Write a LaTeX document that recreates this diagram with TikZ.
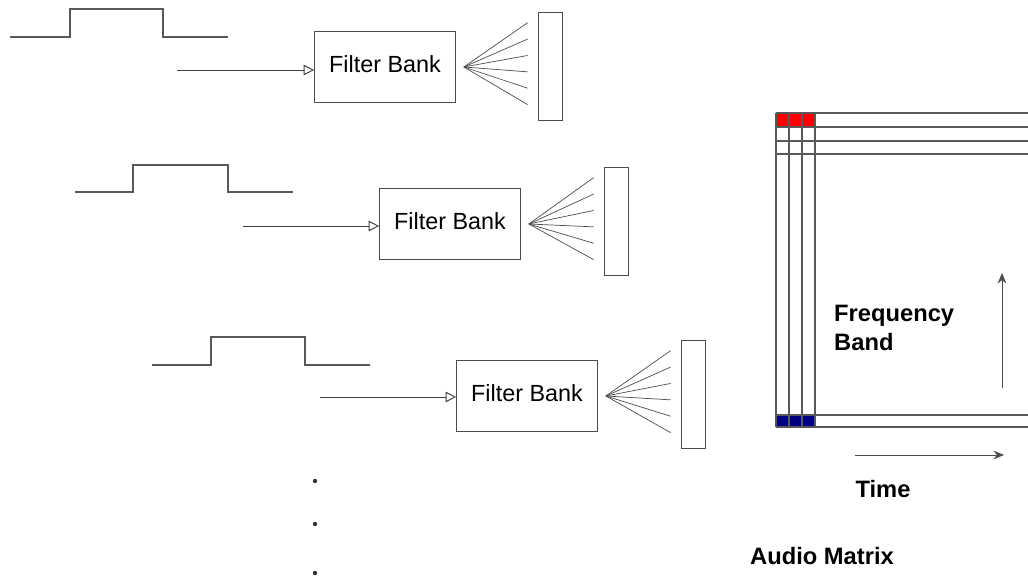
\documentclass[tikz,border=0pt]{standalone}
\usepackage{fontspec}
\setsansfont{Liberation Sans}
\usetikzlibrary{positioning, arrows.meta, calc}

\begin{document}
\begin{tikzpicture}[
  x=0.02cm, y=-0.02cm,
  font=\sffamily,
  fbank/.style={draw=black!70, minimum width=2.82cm, minimum height=1.42cm, inner sep=0pt,
    font=\sffamily\fontsize{13.3}{15}\selectfont},
  outbar/.style={draw=black!70, minimum width=0.48cm, minimum height=2.16cm, inner sep=0pt},
  pulse/.style={draw=black!65, line width=0.9pt},
  feed/.style={-{Triangle[open, length=6pt, width=6pt]}, draw=black!75, line width=0.55pt},
  fan/.style={draw=black!70, line width=0.4pt},
  gridline/.style={draw=black!65, line width=0.6pt},
  axis/.style={-{Stealth[length=6pt, width=5pt]}, draw=black!70, line width=0.55pt},
  lbl/.style={font=\sffamily\bfseries\fontsize{13.5}{17}\selectfont, align=left}
]
\useasboundingbox (0,0) rectangle (1028,580);

% first stage
\draw[pulse] (10,37) -- (70,37) -- (70,9) -- (163,9) -- (163,37) -- (228,37);
\coordinate (in1) at (177,70);
\node[fbank] (fb1) at (385,67) {\raisebox{3pt}{Filter Bank}};
\node[outbar] (out1) at (550,66) {};
\draw[feed] (in1) -- (in1 -| fb1.west);
\coordinate (ap1) at ($(fb1.east)+(8,0)$);
\foreach \k in {0,...,5}
  \draw[fan] (ap1) -- ($(out1.north west)+(-10,11+16.4*\k)$);

% second stage
\draw[pulse] (75,192) -- (133,192) -- (133,165) -- (228,165) -- (228,192) -- (293,192);
\coordinate (in2) at (243,226);
\node[fbank] (fb2) at (450,224) {\raisebox{3pt}{Filter Bank}};
\node[outbar] (out2) at (616,221) {};
\draw[feed] (in2) -- (in2 -| fb2.west);
\coordinate (ap2) at ($(fb2.east)+(8,0)$);
\foreach \k in {0,...,5}
  \draw[fan] (ap2) -- ($(out2.north west)+(-10,11+16.4*\k)$);

% third stage
\draw[pulse] (152,365) -- (211,365) -- (211,337) -- (305,337) -- (305,365) -- (370,365);
\coordinate (in3) at (320,397);
\node[fbank] (fb3) at (527,396) {\raisebox{3pt}{Filter Bank}};
\node[outbar] (out3) at (693,394) {};
\draw[feed] (in3) -- (in3 -| fb3.west);
\coordinate (ap3) at ($(fb3.east)+(8,0)$);
\foreach \k in {0,...,5}
  \draw[fan] (ap3) -- ($(out3.north west)+(-10,11+16.4*\k)$);

% more stages follow
\foreach \y in {481,524,573}
  \fill[black!80] (315,\y) circle (2.2);

% audio matrix
\fill[red] (776,113) rectangle (815,127);
\fill[blue!50!black] (776,415) rectangle (815,427);
\foreach \x in {776,789,802,815}
  \draw[gridline] (\x,113) -- (\x,427);
\foreach \y in {113,127,141,154,415,427}
  \draw[gridline] (776,\y) -- (1028,\y);

\node[lbl, anchor=west] (freq) at (828,328) {Frequency\\Band};
\coordinate (fup0) at (1002,388);
\coordinate (fup1) at (1002,273);
\draw[axis] (fup0) -- (fup1);

\coordinate (t0) at (855,455);
\coordinate (t1) at (1004,455);
\draw[axis] (t0) -- (t1);
\node[lbl] (time) at (883,489) {Time};

\node[lbl] (mat) at (822,556) {Audio Matrix};

\end{tikzpicture}
\end{document}
